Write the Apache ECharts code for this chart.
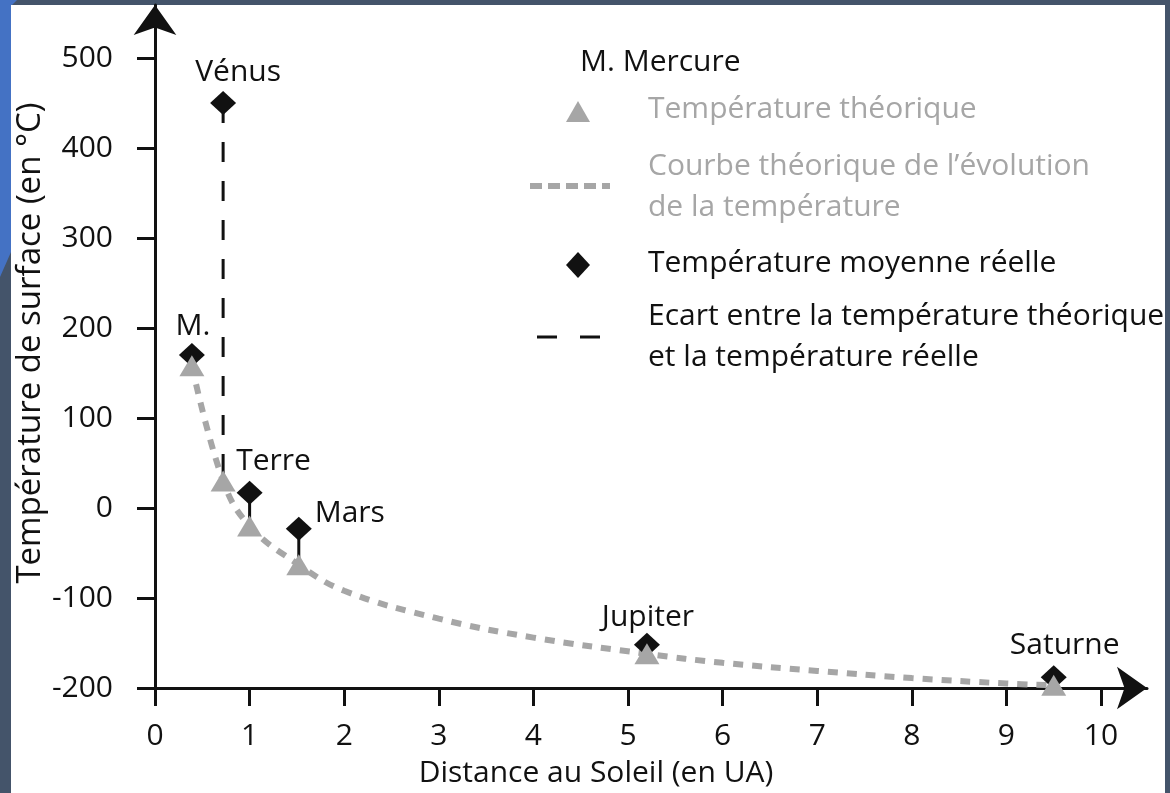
<!DOCTYPE html>
<html><head><meta charset="utf-8">
<script src="https://cdn.jsdelivr.net/npm/echarts@6/dist/echarts.min.js"></script>
<style>html,body{margin:0;padding:0;background:#44546a;overflow:hidden}#c{width:1170px;height:793px}</style>
</head><body><div id="c"></div>
<script>
// ---- data ----
const planets    = ['M.', 'Vénus', 'Terre', 'Mars', 'Jupiter', 'Saturne'];
const distances  = [0.39, 0.72, 1.0, 1.52, 5.2, 9.5];
const realTemps  = [170, 450, 17, -23, -152, -188];
const theoTemps  = [158, 30, -20, -63, -162, -197];
const curveX     = [0.39, 0.72, 1.0, 1.52, 2, 3, 4, 5.2, 6, 7, 8, 9, 9.5];
const curveY     = [158, 30, -20, -63, -92, -123, -144, -162, -172, -181, -189, -195, -197];
const xTicks     = [0, 1, 2, 3, 4, 5, 6, 7, 8, 9, 10];
const yTicks     = [-200, -100, 0, 100, 200, 300, 400, 500];
const venusIndex = 1;

// ---- styling (not data) ----
const FONT = '"Open Sans", Roboto, sans-serif';
const BLACK = '#111111';
const GRAY = '#a6a6a6';
const labelOffsets = [[1, -29], [15, -31], [24, -31], [51, -15], [1, -27], [11, -32]];

const chart = echarts.init(document.getElementById('c'), null, {renderer: 'canvas'});

const connectorSeries = distances.map((d, i) => ({
  type: 'line',
  data: [[d, realTemps[i]], [d, theoTemps[i]]],
  showSymbol: false,
  silent: true,
  z: 3,
  lineStyle: {color: BLACK, width: 3, type: i === venusIndex ? [20, 19] : 'solid'}
}));

const txt = (text, x, y, color, size) => ({
  type: 'text', x, y, silent: true,
  style: {text, font: size + 'px ' + FONT, fill: color, verticalAlign: 'middle', textVerticalAlign: 'middle'}
});

const option = {
  backgroundColor: 'transparent',
  animation: false,
  grid: {left: 155, right: 23, top: 5, bottom: 105},
  xAxis: {
    type: 'value', min: 0, max: 10.486, interval: 1,
    axisLine: {onZero: false, lineStyle: {color: BLACK, width: 3}, symbol: ['none', 'arrow'], symbolSize: [32, 30]},
    axisTick: {show: true, length: 18, lineStyle: {color: BLACK, width: 3}, customValues: xTicks},
    axisLabel: {customValues: xTicks, color: BLACK, fontSize: 30, fontFamily: FONT, margin: 33},
    splitLine: {show: false}
  },
  yAxis: {
    type: 'value', min: -200, max: 558.9, interval: 100,
    axisLine: {onZero: false, lineStyle: {color: BLACK, width: 3}, symbol: ['none', 'arrow'], symbolSize: [32, 30]},
    axisTick: {show: true, length: 18, lineStyle: {color: BLACK, width: 3}, customValues: yTicks},
    axisLabel: {customValues: yTicks, color: BLACK, fontSize: 30, fontFamily: FONT, margin: 42},
    splitLine: {show: false}
  },
  series: [
    {
      type: 'line', name: 'Courbe théorique',
      data: curveX.map((x, i) => [x, curveY[i]]),
      smooth: 0.4, showSymbol: false, silent: true, z: 2,
      lineStyle: {color: GRAY, width: 6, type: [10, 9]}
    },
    ...connectorSeries,
    {
      type: 'scatter', name: 'Température moyenne réelle',
      symbol: 'diamond', symbolSize: [26, 24], z: 4,
      itemStyle: {color: BLACK, opacity: 1},
      data: distances.map((d, i) => ({
        value: [d, realTemps[i]], name: planets[i],
        label: {offset: labelOffsets[i]}
      })),
      label: {
        show: true, position: 'inside', formatter: p => p.name,
        color: BLACK, fontSize: 30, fontFamily: FONT, align: 'center', verticalAlign: 'middle'
      }
    },
    {
      type: 'scatter', name: 'Température théorique',
      symbol: 'triangle', symbolSize: [25, 21], z: 5,
      itemStyle: {color: GRAY, opacity: 1},
      data: distances.map((d, i) => [d, theoTemps[i]])
    }
  ],
  graphic: [
    // frame
    {type: 'polygon', z: -20, silent: true, shape: {points: [[0,0],[17,0],[11,6],[11,252],[0,277]]}, style: {fill: '#4472c4'}},
    {type: 'rect', z: -20, silent: true, shape: {x: 11, y: 5, width: 1154, height: 800}, style: {fill: '#ffffff'}},
    // axis titles
    {type: 'text', x: 596, y: 773, silent: true, style: {text: 'Distance au Soleil (en UA)', font: '30px ' + FONT, fill: BLACK, align: 'center', verticalAlign: 'middle', textAlign: 'center', textVerticalAlign: 'middle'}},
    {type: 'text', x: 31, y: 343, rotation: Math.PI / 2, silent: true, style: {text: 'Température de surface (en °C)', font: '33px ' + FONT, fill: BLACK, align: 'center', verticalAlign: 'middle', textAlign: 'center', textVerticalAlign: 'middle'}},
    // legend
    txt('M. Mercure', 580, 62, BLACK, 30),
    {type: 'polygon', silent: true, shape: {points: [[566,122],[590,122],[578,101]]}, style: {fill: GRAY}},
    txt('Température théorique', 648, 109, GRAY, 30),
    {type: 'line', silent: true, shape: {x1: 530, y1: 186, x2: 610, y2: 186}, style: {stroke: GRAY, lineWidth: 6, lineDash: [12, 6]}},
    txt('Courbe théorique de l’évolution', 648, 166, GRAY, 30),
    txt('de la température', 648, 207, GRAY, 30),
    {type: 'polygon', silent: true, shape: {points: [[578,252],[590,265],[578,278],[566,265]]}, style: {fill: BLACK}},
    txt('Température moyenne réelle', 648, 263, BLACK, 30),
    {type: 'line', silent: true, shape: {x1: 537, y1: 337, x2: 600, y2: 337}, style: {stroke: BLACK, lineWidth: 3, lineDash: [20, 23]}},
    txt('Ecart entre la température théorique', 648, 316, BLACK, 30),
    txt('et la température réelle', 648, 357, BLACK, 30)
  ]
};
chart.setOption(option);
</script>
</body></html>
